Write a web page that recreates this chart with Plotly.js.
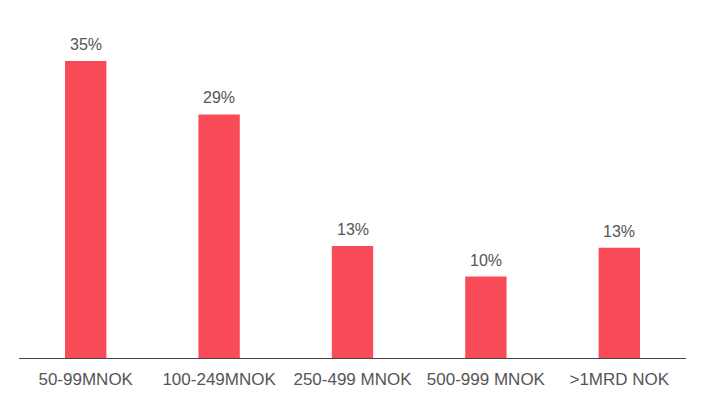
<!DOCTYPE html>
<html>
<head>
<meta charset="utf-8">
<script src="https://cdn.plot.ly/plotly-3.0.1.min.js"></script>
<style>html,body{margin:0;padding:0;background:#fff;}#chart{width:704px;height:400px;}</style>
</head>
<body>
<div id="chart"></div>
<script>
var categories = ["50-99MNOK", "100-249MNOK", "250-499 MNOK", "500-999 MNOK", ">1MRD NOK"];
var values = [35, 28.7, 13.2, 9.6, 13.0];
var valueLabels = ["35%", "29%", "13%", "10%", "13%"];

var trace = {
  type: "bar",
  x: categories,
  y: values,
  marker: {color: "#F94B57"},
  hoverinfo: "none"
};

var annotations = categories.map(function(c, i) {
  return {
    x: c, y: values[i], xref: "x", yref: "y",
    text: valueLabels[i], showarrow: false,
    yanchor: "bottom", yshift: 6,
    font: {family: "Liberation Sans, Arial, sans-serif", size: 16, color: "#555555"}
  };
});

var layout = {
  width: 704, height: 400,
  margin: {l: 19, r: 18, t: 10, b: 42},
  paper_bgcolor: "#ffffff", plot_bgcolor: "#ffffff",
  bargap: 0.69,
  showlegend: false,
  font: {family: "Liberation Sans, Arial, sans-serif", size: 14, color: "#555555"},
  xaxis: {
    type: "category",
    showgrid: false, zeroline: false,
    showline: true, linecolor: "#444444", linewidth: 1.2,
    ticks: "", ticklen: 0,
    ticklabelstandoff: 5,
    tickfont: {family: "Liberation Sans, Arial, sans-serif", size: 17, color: "#555555"},
    fixedrange: true
  },
  yaxis: {
    range: [0, 41],
    showgrid: false, zeroline: false, showline: false,
    showticklabels: false, ticks: "",
    fixedrange: true
  },
  annotations: annotations
};

Plotly.newPlot("chart", [trace], layout, {displayModeBar: false, staticPlot: true});
</script>
</body>
</html>
